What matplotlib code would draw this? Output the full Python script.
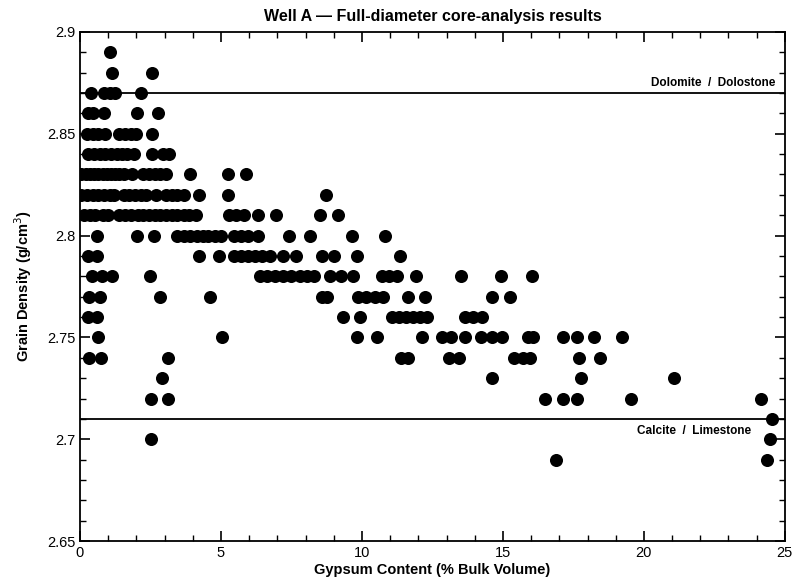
import matplotlib.pyplot as plt
from matplotlib.ticker import MultipleLocator, FormatStrFormatter

plt.rcParams['font.family'] = ['Liberation Sans', 'DejaVu Sans']

# gypsum content (% BV) grouped by measured grain density
rows = {
    2.89: [1.05],
    2.88: [1.15, 2.57],
    2.87: [0.4, 0.85, 1.05, 1.25, 2.15],
    2.86: [0.3, 0.47, 0.84, 2.02, 2.75],
    2.85: [0.25, 0.45, 0.65, 0.9, 1.4, 1.6, 1.8, 2.0, 2.55],
    2.84: [0.3, 0.5, 0.7, 0.9, 1.1, 1.3, 1.5, 1.65, 1.93, 2.55, 2.95, 3.15],
    2.83: [0.05, 0.2, 0.35, 0.5, 0.65, 0.8, 0.95, 1.1, 1.25, 1.4, 1.55, 1.83,
           2.25, 2.45, 2.65, 2.85, 3.05, 3.9, 5.25, 5.9],
    2.82: [0.05, 0.25, 0.45, 0.65, 0.85, 1.05, 1.2, 1.55, 1.75, 1.95, 2.15, 2.35,
           2.7, 3.05, 3.25, 3.45, 3.7, 4.23, 5.24, 8.73],
    2.81: [0.15, 0.35, 0.55, 0.8, 1.0, 1.4, 1.6, 1.8, 2.05, 2.25, 2.45, 2.65, 2.85,
           3.05, 3.25, 3.45, 3.7, 3.85, 4.1, 5.3, 5.55, 5.8, 6.33, 6.95, 8.52, 9.14],
    2.80: [0.62, 2.01, 2.62, 3.45, 3.7, 3.9, 4.15, 4.35, 4.55, 4.8, 5.0, 5.45, 5.7,
           5.95, 6.3, 7.4, 8.17, 9.65, 10.83],
    2.79: [0.3, 0.6, 4.23, 4.94, 5.45, 5.7, 5.95, 6.2, 6.45, 6.75, 7.2, 7.65, 8.6,
           9.0, 9.82, 11.34],
    2.78: [0.42, 0.79, 1.15, 2.49, 6.4, 6.65, 6.9, 7.2, 7.5, 7.8, 8.05, 8.3, 8.85,
           9.25, 9.7, 10.7, 10.95, 11.25, 11.93, 13.53, 14.94, 16.04],
    2.77: [0.32, 0.71, 2.82, 4.62, 8.6, 8.75, 9.85, 10.15, 10.45, 10.75, 11.64,
           12.23, 14.62, 15.25],
    2.76: [0.3, 0.6, 9.33, 9.94, 11.05, 11.3, 11.55, 11.8, 12.05, 12.3, 13.65,
           13.95, 14.25],
    2.75: [0.63, 5.03, 9.82, 10.54, 12.13, 12.85, 13.15, 13.64, 14.24, 14.6, 14.95,
           15.9, 16.05, 17.14, 17.64, 18.23, 19.24],
    2.74: [0.33, 0.74, 3.11, 11.4, 11.65, 13.1, 13.45, 15.4, 15.7, 15.95, 17.7, 18.44],
    2.73: [2.92, 14.63, 17.76, 21.07],
    2.72: [2.51, 3.11, 16.5, 17.14, 17.64, 19.53, 24.15],
    2.71: [24.56],
    2.70: [2.51, 24.48],
    2.69: [16.87, 24.35],
}
gypsum = [x for d, xs in rows.items() for x in xs]
density = [d for d, xs in rows.items() for x in xs]

dolomite_density = 2.87
calcite_density = 2.71

fig = plt.figure(figsize=(7.92, 5.8), dpi=100)
ax = fig.add_axes([0.101, 0.067, 0.89, 0.878])

ax.plot(gypsum, density, 'o', color='black', markersize=9.4, markeredgewidth=0)
ax.axhline(dolomite_density, color='black', linewidth=1.3)
ax.axhline(calcite_density, color='black', linewidth=1.3)
ax.text(24.65, dolomite_density + 0.002, 'Dolomite  /  Dolostone', ha='right', va='bottom',
        fontsize=8.5, fontweight='bold')
ax.text(23.8, calcite_density - 0.003, 'Calcite  /  Limestone', ha='right', va='top',
        fontsize=8.5, fontweight='bold')

ax.set_xlim(0, 25)
ax.set_ylim(2.65, 2.9)
ax.xaxis.set_major_locator(MultipleLocator(5))
ax.xaxis.set_minor_locator(MultipleLocator(1))
ax.yaxis.set_major_locator(MultipleLocator(0.05))
ax.yaxis.set_minor_locator(MultipleLocator(0.01))
ax.yaxis.set_major_formatter(FormatStrFormatter('%g'))
ax.tick_params(which='both', direction='in', top=True, right=True, labelsize=10.5)
ax.tick_params(which='major', length=7, width=1.2)
ax.tick_params(which='minor', length=4, width=1)
for s in ax.spines.values():
    s.set_linewidth(1.3)

ax.set_title('Well A — Full-diameter core-analysis results', fontsize=11.5,
             fontweight='bold', pad=8)
ax.set_xlabel('Gypsum Content (% Bulk Volume)', fontsize=10.5, fontweight='bold', labelpad=2)
ax.set_ylabel('Grain Density (g/cm$^3$)', fontsize=10.5, fontweight='bold', labelpad=9)

fig.savefig('out.png', dpi=100)
